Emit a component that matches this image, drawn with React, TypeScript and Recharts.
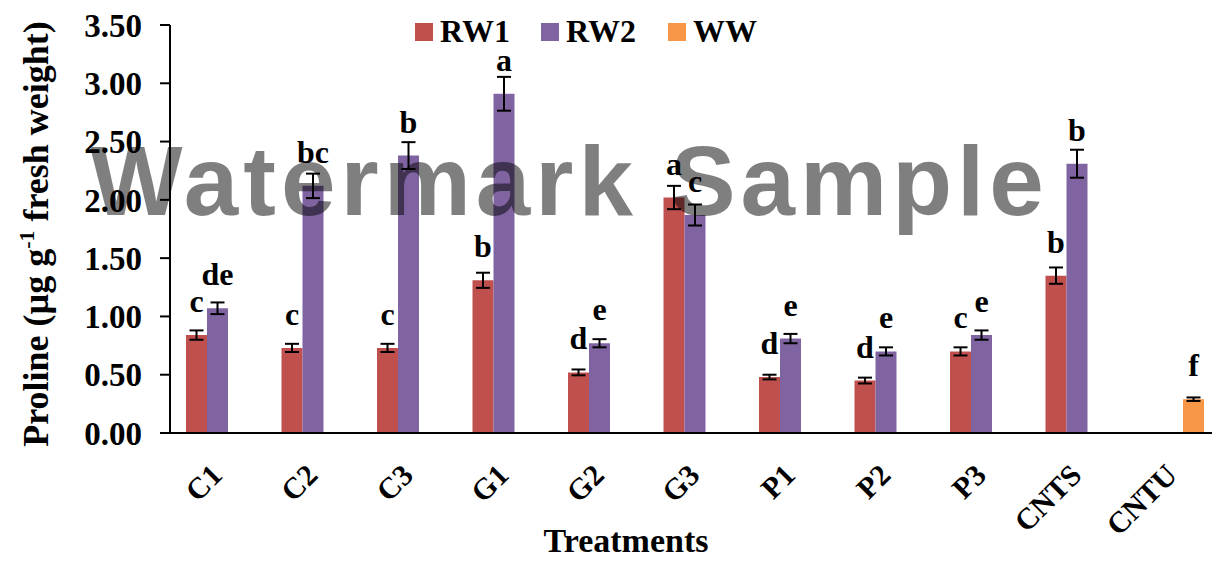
import React from 'react'
import { Bar, BarChart, ErrorBar, LabelList, XAxis, YAxis } from 'recharts'

document.body.style.margin = '0'

const categories = ['C1', 'C2', 'C3', 'G1', 'G2', 'G3', 'P1', 'P2', 'P3', 'CNTS', 'CNTU']

const rw1 = [0.84, 0.73, 0.73, 1.31, 0.52, 2.02, 0.48, 0.45, 0.7, 1.35, null]
const rw1Err = [0.04, 0.035, 0.035, 0.065, 0.025, 0.1, 0.02, 0.025, 0.035, 0.07, null]
const rw1Letters = ['c', 'c', 'c', 'b', 'd', 'a', 'd', 'd', 'c', 'b', null]

const rw2 = [1.07, 2.12, 2.38, 2.91, 0.77, 1.87, 0.81, 0.7, 0.84, 2.31, null]
const rw2Err = [0.05, 0.105, 0.115, 0.145, 0.035, 0.09, 0.04, 0.035, 0.04, 0.12, null]
const rw2Letters = ['de', 'bc', 'b', 'a', 'e', 'c', 'e', 'e', 'e', 'b', null]

const ww = [null, null, null, null, null, null, null, null, null, null, 0.29]
const wwErr = [null, null, null, null, null, null, null, null, null, null, 0.015]
const wwLetters = [null, null, null, null, null, null, null, null, null, null, 'f']

const yTicks = [0, 0.5, 1, 1.5, 2, 2.5, 3, 3.5]

const series = [
  { key: 'rw1', name: 'RW1', color: '#C0504D' },
  { key: 'rw2', name: 'RW2', color: '#8064A2' },
  { key: 'ww', name: 'WW', color: '#F79646' },
]

const data = categories.map((name, i) => ({
  name,
  rw1: rw1[i],
  rw1Err: rw1Err[i],
  rw1Lbl: rw1Letters[i],
  rw2: rw2[i],
  rw2Err: rw2Err[i],
  rw2Lbl: rw2Letters[i],
  ww: ww[i],
  wwErr: wwErr[i],
  wwLbl: wwLetters[i],
}))

// tick marks sit on the category boundaries, like the Excel original
const edgeTicks = [...categories.map((_, i) => i), categories.length]

const serif = "'Times New Roman', 'Liberation Serif', serif"

const LetterLabel = (props: any) => {
  const { x, y, width, value } = props
  if (value == null || x == null) return null
  return (
    <text
      x={x + width / 2}
      y={y - 23}
      textAnchor="middle"
      fontFamily={serif}
      fontWeight="bold"
      fontSize={32}
      fill="#000"
    >
      {value}
    </text>
  )
}

const CategoryTick = (props: any) => {
  const { x, y, payload } = props
  const tx = x + 6
  const ty = y + 43
  return (
    <text
      x={tx}
      y={ty}
      textAnchor="end"
      transform={`rotate(-45 ${tx} ${ty})`}
      fontFamily={serif}
      fontWeight="bold"
      fontSize={30}
      fill="#000"
    >
      {payload.value}
    </text>
  )
}

const legendX = [415, 541, 668]

export default function App() {
  return (
    <div style={{ position: 'relative', width: 1212, height: 562, overflow: 'hidden', background: '#fff' }}>
      <BarChart
        width={1230}
        height={562}
        data={data}
        margin={{ top: 25, right: 9.5, left: 0, bottom: 0 }}
        barSize={21}
        barGap={0}
      >
        <XAxis
          xAxisId="b_cat"
          dataKey="name"
          height={128}
          axisLine={false}
          tickLine={false}
          tickSize={0}
          tickMargin={0}
          interval={0}
          tick={<CategoryTick />}
        />
        <XAxis
          xAxisId="a_edge"
          type="number"
          domain={[0, categories.length]}
          ticks={edgeTicks}
          height={1}
          tick={false}
          stroke="#000"
          axisLine={{ stroke: '#000', strokeWidth: 2 }}
          tickLine={{ stroke: '#000', strokeWidth: 2 }}
          tickSize={10}
        />
        <YAxis
          width={170}
          domain={[0, 3.5]}
          ticks={yTicks}
          tickFormatter={(v: number) => v.toFixed(2)}
          stroke="#000"
          axisLine={{ stroke: '#000', strokeWidth: 2 }}
          tickLine={{ stroke: '#000', strokeWidth: 2 }}
          tickSize={10}
          tickMargin={18}
          tick={{ fill: '#000', fontSize: 33, fontWeight: 'bold', fontFamily: serif }}
        />
        {series.map((s) => (
          <Bar key={s.key} xAxisId="b_cat" dataKey={s.key} name={s.name} fill={s.color} isAnimationActive={false}>
            <ErrorBar dataKey={`${s.key}Err`} width={7} strokeWidth={2} stroke="#000" direction="y" />
            <LabelList dataKey={`${s.key}Lbl`} content={<LetterLabel />} />
          </Bar>
        ))}
      </BarChart>

      <svg
        width={1212}
        height={562}
        style={{ position: 'absolute', left: 0, top: 0, pointerEvents: 'none' }}
      >
        {/* legend */}
        {series.map((s, i) => (
          <g key={s.key}>
            <rect x={legendX[i]} y={23} width={18} height={18} fill={s.color} />
            <text x={legendX[i] + 25} y={42} fontFamily={serif} fontWeight="bold" fontSize={32} fill="#000">
              {s.name}
            </text>
          </g>
        ))}

        {/* axis titles */}
        <text
          x={48}
          y={234}
          transform="rotate(-90 48 234)"
          textAnchor="middle"
          fontFamily={serif}
          fontWeight="bold"
          fontSize={36}
          fill="#000"
        >
          Proline (µg g
          <tspan fontSize={22} dy={-14}>-1</tspan>
          <tspan dy={14}> fresh weight)</tspan>
        </text>
        <text x={626} y={552} textAnchor="middle" fontFamily={serif} fontWeight="bold" fontSize={34} fill="#000">
          Treatments
        </text>

        {/* watermark */}
        <text
          x={90}
          y={215}
          fontFamily="'Liberation Sans', Arial, sans-serif"
          fontWeight="bold"
          fontSize={98}
          letterSpacing={5}
          fill="#000"
          fillOpacity={0.5}
        >
          Watermark Sample
        </text>
      </svg>
    </div>
  )
}
